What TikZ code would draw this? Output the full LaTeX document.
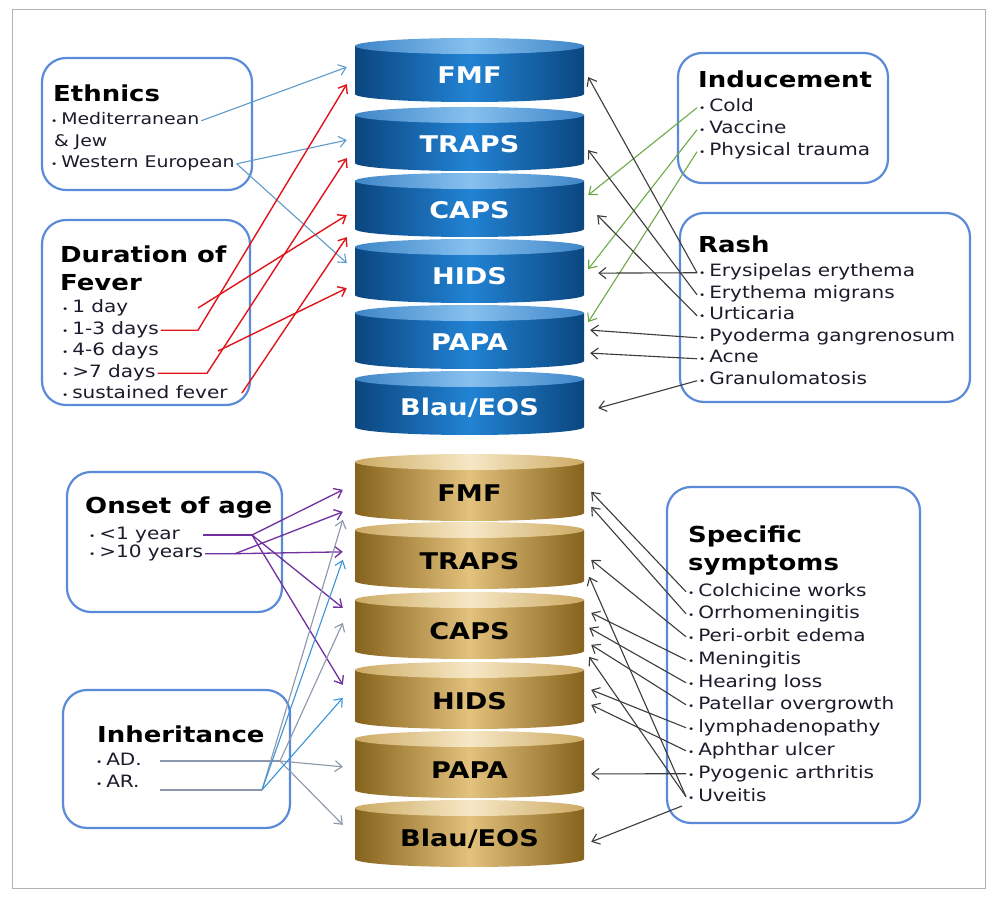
\documentclass[tikz,border=0pt]{standalone}
\usepackage{fontspec}
\setmainfont{DejaVu Sans}[FakeStretch=1.18]
\usetikzlibrary{arrows.meta,calc}
\definecolor{boxblue}{HTML}{5B8BD8}
\definecolor{textdark}{HTML}{1B1B2B}
\definecolor{cylnavy}{HTML}{0B467F}
\definecolor{cylmid}{HTML}{2283D4}
\definecolor{cyltopedge}{HTML}{3F86C8}
\definecolor{cyltopmid}{HTML}{86C0EE}
\definecolor{goldedge}{HTML}{86631C}
\definecolor{goldmid}{HTML}{E3C27E}
\definecolor{goldtopedge}{HTML}{CDAA63}
\definecolor{goldtopmid}{HTML}{F6E8C6}
\definecolor{ethblue}{HTML}{5E9BCB}
\definecolor{durred}{HTML}{E0151B}
\definecolor{indgreen}{HTML}{6CAA45}
\definecolor{agepurple}{HTML}{7030A0}
\definecolor{inhgray}{HTML}{8A97AC}
\definecolor{inhblue}{HTML}{3A94DA}
\definecolor{symgray}{HTML}{3C3C3C}
\newcommand{\bul}{{\fontsize{9}{9}\selectfont\textbullet}\hspace{4pt}}
% one disc of a stack: name, top, height, kind (blue/gold), label
\newcommand{\drum}[5]{%
  \shade[#4body] (355,{#2+8}) -- (355,{#2+#3-8})
    arc[start angle=180, end angle=0, x radius=114.5, y radius=8] -- (584,{#2+8}) -- cycle;
  \shade[#4top] (469.5,{#2+8}) ellipse[x radius=114.5, y radius=8];
  \node[#4label] (#1) at (469.5,{#2+0.58*#3}) {#5};
}

\begin{document}
\begin{tikzpicture}[x=1pt,y=-1pt,
    box/.style={draw=boxblue, line width=2.2pt, rounded corners=24pt},
    head/.style={anchor=base west, inner sep=0pt, font=\fontsize{22}{28}\selectfont\bfseries, text=black},
    headtwo/.style={head, anchor=north west, align=left},
    item/.style={anchor=base west, inner sep=0pt, outer sep=2pt, text height=12pt, text depth=3.5pt,
      font=\fontsize{17}{17}\selectfont, text=textdark},
    bluelabel/.style={inner sep=0pt, minimum width=229pt, minimum height=40pt,
      font=\fontsize{23}{23}\selectfont\bfseries, text=white},
    goldlabel/.style={bluelabel, text=black},
    bluebody/.style={left color=cylnavy, right color=cylnavy, middle color=cylmid},
    bluetop/.style={left color=cyltopedge, right color=cyltopedge, middle color=cyltopmid},
    goldbody/.style={left color=goldedge, right color=goldedge, middle color=goldmid},
    goldtop/.style={left color=goldtopedge, right color=goldtopedge, middle color=goldtopmid},
    tip/.style={-{Straight Barb[length=7pt,width=11pt]}},
    eth/.style={draw=ethblue, line width=1.1pt},
    dur/.style={draw=durred, line width=1.4pt},
    ind/.style={draw=indgreen, line width=1.1pt},
    sym/.style={draw=symgray, line width=1.1pt},
    age/.style={draw=agepurple, line width=1.3pt},
    inh/.style={draw=inhgray, line width=1.1pt},
    inhb/.style={draw=inhblue, line width=1.1pt}]
    \useasboundingbox (0,0) rectangle (989,901);
    \fill[white] (0,0) rectangle (989,901);
    \draw[gray!60, line width=0.8pt] (12,9) rectangle (985,888);

    % Stacks
    \drum{tFMF}{38}{64}{blue}{FMF}
    \drum{tTRAPS}{107}{64}{blue}{TRAPS}
    \drum{tCAPS}{173}{64}{blue}{CAPS}
    \drum{tHIDS}{239}{64}{blue}{HIDS}
    \drum{tPAPA}{305}{64}{blue}{PAPA}
    \drum{tBlau}{371}{64}{blue}{Blau/EOS}
    \drum{gFMF}{454}{67}{gold}{FMF}
    \drum{gTRAPS}{522}{67}{gold}{TRAPS}
    \drum{gCAPS}{592}{67}{gold}{CAPS}
    \drum{gHIDS}{662}{67}{gold}{HIDS}
    \drum{gPAPA}{731}{67}{gold}{PAPA}
    \drum{gBlau}{800}{67}{gold}{Blau/EOS}

    % Ethnics
    \draw[box] (42,58) rectangle (252,190);
    \node[head] (ethH) at (53,102) {Ethnics};
    \node[item, font=\fontsize{16}{16}\selectfont] (med) at (49,125) {\bul Mediterranean};
    \node[item, font=\fontsize{16}{16}\selectfont] (jew) at (52,146.5) {\& Jew};
    \node[item, font=\fontsize{16}{16}\selectfont] (west) at (49,168) {\bul Western European};

    % Duration of fever
    \draw[box] (42,220) rectangle (250,405);
    \node[headtwo] (durH) at (60,246) {Duration of\\Fever};
    \node[item] (d1) at (60,313) {\bul 1 day};
    \node[item] (d13) at (60,334.5) {\bul 1-3 days};
    \node[item] (d46) at (60,356) {\bul 4-6 days};
    \node[item] (d7) at (60,377.5) {\bul >7 days};
    \node[item] (d5) at (60,399) {\bul sustained fever};

    % Inducement
    \draw[box] (678,53) rectangle (888,183);
    \node[head] (indH) at (698,88) {Inducement};
    \node[item] (cold) at (697,112) {\bul Cold};
    \node[item] (vacc) at (697,134) {\bul Vaccine};
    \node[item] (phys) at (697,156) {\bul Physical trauma};

    % Rash
    \draw[box] (680,213) rectangle (970,402);
    \node[head] (rashH) at (698,253) {Rash};
    \node[item] (ery) at (697,277) {\bul Erysipelas erythema};
    \node[item] (mig) at (697,299) {\bul Erythema migrans};
    \node[item] (urt) at (697,320) {\bul Urticaria};
    \node[item] (pyo) at (697,342) {\bul Pyoderma gangrenosum};
    \node[item] (acne) at (697,363) {\bul Acne};
    \node[item] (gran) at (697,385) {\bul Granulomatosis};

    % Onset of age
    \draw[box] (67,472) rectangle (282,612);
    \node[head] (ageH) at (85,513) {Onset of age};
    \node[item] (lt1) at (87,539) {\bul <1 year};
    \node[item] (lt10) at (87,558) {\bul >10 years};

    % Inheritance
    \draw[box] (63,690) rectangle (290,828);
    \node[head] (inhH) at (97,742) {Inheritance};
    \node[item] (ad) at (94,765) {\bul AD.};
    \node[item] (ar) at (94,787) {\bul AR.};

    % Specific symptoms
    \draw[box] (667,487) rectangle (920,823);
    \node[headtwo] (specH) at (688,526) {Specific\\symptoms};
    \node[item] (s1) at (686,596) {\bul Colchicine works};
    \node[item] (s2) at (686,618) {\bul Orrhomeningitis};
    \node[item] (s3) at (686,641) {\bul Peri-orbit edema};
    \node[item] (s4) at (686,664) {\bul Meningitis};
    \node[item] (s5) at (686,687) {\bul Hearing loss};
    \node[item] (s6) at (686,709) {\bul Patellar overgrowth};
    \node[item] (s7) at (686,732) {\bul lymphadenopathy};
    \node[item] (s8) at (686,755) {\bul Aphthar ulcer};
    \node[item] (s9) at (686,778) {\bul Pyogenic arthritis};
    \node[item] (s10) at (686,801) {\bul Uveitis};

    % Ethnics arrows
    \draw[tip,eth] (med.east) -- ($(tFMF.west)+(-8,-8)$);
    \draw[tip,eth] (west.east) -- ($(tTRAPS.west)+(-8,-4)$);
    \draw[tip,eth] (west.east) -- ($(tHIDS.west)+(-8,-13)$);

    % Duration arrows
    \coordinate (r1) at (198,308);
    \coordinate (r13) at (198,330.3);
    \coordinate (r46) at (218,351);
    \coordinate (r7) at (207,373.3);
    \coordinate (rs) at (242,393);
    \draw[tip,dur] (r1) -- ($(tCAPS.west)+(-8,5)$);
    \draw[tip,dur] (d13.east) -- (r13) -- ($(tFMF.west)+(-8,9)$);
    \draw[tip,dur] (r46) -- ($(tHIDS.west)+(-8,12)$);
    \draw[tip,dur] (d7.east) -- (r7) -- ($(tTRAPS.west)+(-8,14)$);
    \draw[tip,dur] (rs) -- ($(tCAPS.west)+(-8,27)$);

    % Inducement arrows
    \draw[tip,ind] (cold.west) -- ($(tCAPS.east)+(4,-15)$);
    \draw[tip,ind] (vacc.west) -- ($(tHIDS.east)+(4,-7)$);
    \draw[tip,ind] (phys.west) -- ($(tPAPA.east)+(4,-20)$);

    % Rash arrows
    \draw[tip,sym] (ery.west) -- ($(tFMF.east)+(4,2)$);
    \draw[tip,sym] (ery.west) -- ($(tHIDS.east)+(14,-3)$);
    \draw[tip,sym] (mig.west) -- ($(tTRAPS.east)+(4,6)$);
    \draw[tip,sym] (urt.west) -- ($(tCAPS.east)+(13,5)$);
    \draw[tip,sym] (pyo.west) -- ($(tPAPA.east)+(6,-12)$);
    \draw[tip,sym] (acne.west) -- ($(tPAPA.east)+(6,11)$);
    \draw[tip,sym] (gran.west) -- ($(tBlau.east)+(14,0)$);

    % Onset arrows
    \coordinate (o1a) at (203,535);
    \coordinate (o1) at (252,535);
    \coordinate (o10) at (235,553.7);
    \draw[age] (o1a) -- (o1);
    \draw[tip,age] (o1) -- ($(gFMF.west)+(-12,-3)$);
    \draw[tip,age] (o1) -- ($(gCAPS.west)+(-12,-23)$);
    \draw[tip,age] (o1) -- ($(gHIDS.west)+(-12,-16)$);
    \draw[age] (lt10.east) -- (o10);
    \draw[tip,age] (o10) -- ($(gFMF.west)+(-12,19)$);
    \draw[tip,age] (o10) -- ($(gTRAPS.west)+(-12,-9)$);

    % Inheritance arrows
    \coordinate (ad0) at (160,761);
    \coordinate (ad1) at (280,761);
    \coordinate (ar0) at (160,790);
    \coordinate (ar1) at (262,790);
    \draw[inh] (ad0) -- (ad1);
    \draw[tip,inh] (ad1) -- ($(gCAPS.west)+(-12,-8)$);
    \draw[tip,inh] (ad1) -- ($(gPAPA.west)+(-12,-3)$);
    \draw[tip,inh] (ad1) -- ($(gBlau.west)+(-12,-14)$);
    \draw[inh] (ar0) -- (ar1);
    \draw[tip,inh] (ar1) -- ($(gFMF.west)+(-12,27)$);
    \draw[tip,inhb] (ar1) -- ($(gTRAPS.west)+(-12,-1)$);
    \draw[tip,inhb] (ar1) -- ($(gHIDS.west)+(-12,-3)$);

    % Specific symptom arrows
    \coordinate (sx) at (682,806);
    \draw[tip,sym] (s1.west) -- ($(gFMF.east)+(7,-1)$);
    \draw[tip,sym] (s2.west) -- ($(gFMF.east)+(7,14)$);
    \draw[tip,sym] (s3.west) -- ($(gTRAPS.east)+(7,-1)$);
    \draw[tip,sym] (s4.west) -- ($(gCAPS.east)+(7,-18)$);
    \draw[tip,sym] (s5.west) -- ($(gCAPS.east)+(5,-3)$);
    \draw[tip,sym] (s6.west) -- ($(gCAPS.east)+(7,14)$);
    \draw[tip,sym] (s7.west) -- ($(gHIDS.east)+(7,-11)$);
    \draw[tip,sym] (s8.west) -- ($(gHIDS.east)+(7,4)$);
    \draw[tip,sym] (s9.west) -- ($(gPAPA.east)+(7,4)$);
    \draw[tip,sym] (s10.west) -- ($(gTRAPS.east)+(5,16)$);
    \draw[tip,sym] (s10.west) -- ($(gCAPS.east)+(5,26)$);
    \draw[tip,sym] (sx) -- ($(gBlau.east)+(7,3)$);
\end{tikzpicture}
\end{document}
